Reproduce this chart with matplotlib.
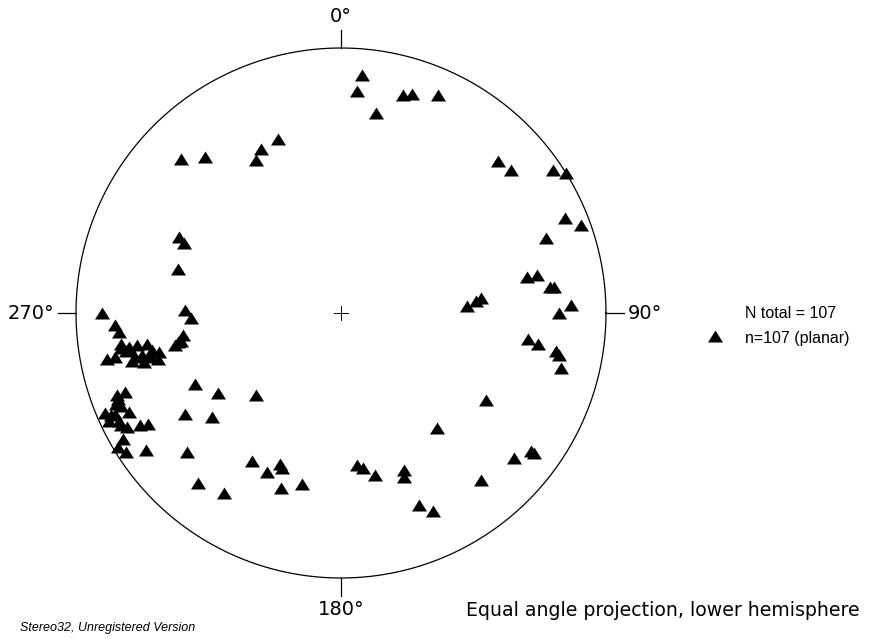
import numpy as np
import matplotlib
matplotlib.use("Agg")
import matplotlib.pyplot as plt

# Poles to the measured planes: trend (deg clockwise from north) and plunge (deg)
pole_trend = [
    5, 4, 10, 16, 18, 24,
    314, 319, 340, 334, 331,
    295, 294, 285, 271, 268, 262, 260, 259,
    46, 50, 56, 58, 67, 70, 70, 79, 79, 83, 83, 87, 85, 84, 88, 90,
    98, 99, 100, 101, 104,
    130, 126, 126,
    121, 140, 140, 158, 155, 158, 159, 168, 174, 172,
    193, 199, 201, 202, 205, 211, 213, 220, 228, 237, 231, 244, 237, 226,
    270, 267, 265, 262, 261, 261, 261, 259, 259, 260, 257, 258, 256, 259, 256, 258,
    250, 250, 248, 247, 247, 246, 245, 245, 244, 242, 241, 240, 240, 239, 237, 235,
    260, 258, 257, 261, 246, 249, 243, 260,
]
pole_plunge = [
    6, 10, 15, 9, 8, 6,
    10, 14, 20, 21, 23,
    22, 24, 25, 29, 31, 28, 26, 25,
    11, 10, 2, 0, 5, 2, 11, 19, 16, 13, 12, 39, 36, 34, 8, 11,
    19, 16, 11, 10, 9,
    9, 7, 6,
    25, 31, 11, 14, 11, 25, 23, 26, 30, 29,
    23, 20, 26, 27, 23, 24, 12, 10, 14, 20, 26, 27, 32, 42,
    6, 9, 10, 10, 12, 14, 17, 6, 8, 11, 12, 15, 15, 18, 19, 20,
    6, 8, 5, 6, 2, 4, 7, 2, 4, 5, 8, 10, 3, 1, 2, 6,
    12, 13, 17, 10, 3, 6, 4, 27,
]

cardinal_angles = [0, 90, 180, 270]
cardinal_labels = ["0°", "90°", "180°", "270°"]
legend_lines = ["N total = 107", "n=107 (planar)"]
projection_note = "Equal angle projection, lower hemisphere"
credit_note = "Stereo32, Unregistered Version"

# Figure geometry (pixels)
W, H, DPI = 877, 639, 100
CX, CY, R = 341.0, 313.0, 265.0

fig = plt.figure(figsize=(W / DPI, H / DPI), dpi=DPI)
fig.patch.set_facecolor("white")
ax = fig.add_axes([0, 0, 1, 1])
ax.set_xlim(-CX / R, (W - CX) / R)
ax.set_ylim((CY - H) / R, CY / R)
ax.set_aspect("equal")
ax.axis("off")

LABEL_FONT = ["DejaVu Sans"]
SMALL_FONT = ["Liberation Sans", "DejaVu Sans"]

# Primitive circle
t = np.linspace(0, 2 * np.pi, 721)
ax.plot(np.cos(t), np.sin(t), color="black", lw=0.9)

# Cardinal ticks and labels
tick_len = 18 / R
gap = 4 / R
for ang, lab in zip(cardinal_angles, cardinal_labels):
    a = np.radians(ang)
    sx, sy = np.sin(a), np.cos(a)
    ax.plot([sx, sx * (1 + tick_len)], [sy, sy * (1 + tick_len)],
            color="black", lw=0.9)
    tx, ty = sx * (1 + tick_len + gap), sy * (1 + tick_len + gap)
    ha = {0: "center", 90: "left", 180: "center", 270: "right"}[ang]
    va = {0: "bottom", 90: "center", 180: "top", 270: "center"}[ang]
    ax.text(tx, ty, lab, ha=ha, va=va, fontsize=14, family=LABEL_FONT)

# Centre cross
c = 7 / R
ax.plot([-c, c], [0, 0], color="black", lw=0.7)
ax.plot([0, 0], [-c, c], color="black", lw=0.7)

# Equal-angle (stereographic) projection of the poles, lower hemisphere
tr = np.radians(np.array(pole_trend, dtype=float))
pl = np.radians(np.array(pole_plunge, dtype=float))
rad = np.tan((np.pi / 2 - pl) / 2)
px = rad * np.sin(tr)
py = rad * np.cos(tr)

tri = [(0, 0.8), (-1, -0.8), (1, -0.8), (0, 0.8)]
ax.plot(px, py, linestyle="none", marker=tri, markersize=10.8,
        color="black", markeredgewidth=0)

# Legend block
def fx(p):
    return p / W

def fy(p):
    return 1 - p / H

ax.plot([fx(715)], [fy(336)], transform=fig.transFigure, linestyle="none",
        marker=tri, markersize=10.8, color="black", markeredgewidth=0)
fig.text(fx(745), fy(314), legend_lines[0], ha="left", va="center",
         fontsize=11.5, family=SMALL_FONT)
fig.text(fx(745), fy(338), legend_lines[1], ha="left", va="center",
         fontsize=11.5, family=SMALL_FONT)

fig.text(fx(466), fy(611), projection_note, ha="left", va="center",
         fontsize=13.6, family=LABEL_FONT)
fig.text(fx(20), fy(628), credit_note, ha="left", va="center",
         fontsize=9, style="italic", family=SMALL_FONT)

fig.savefig("out.png", dpi=DPI, facecolor="white")
